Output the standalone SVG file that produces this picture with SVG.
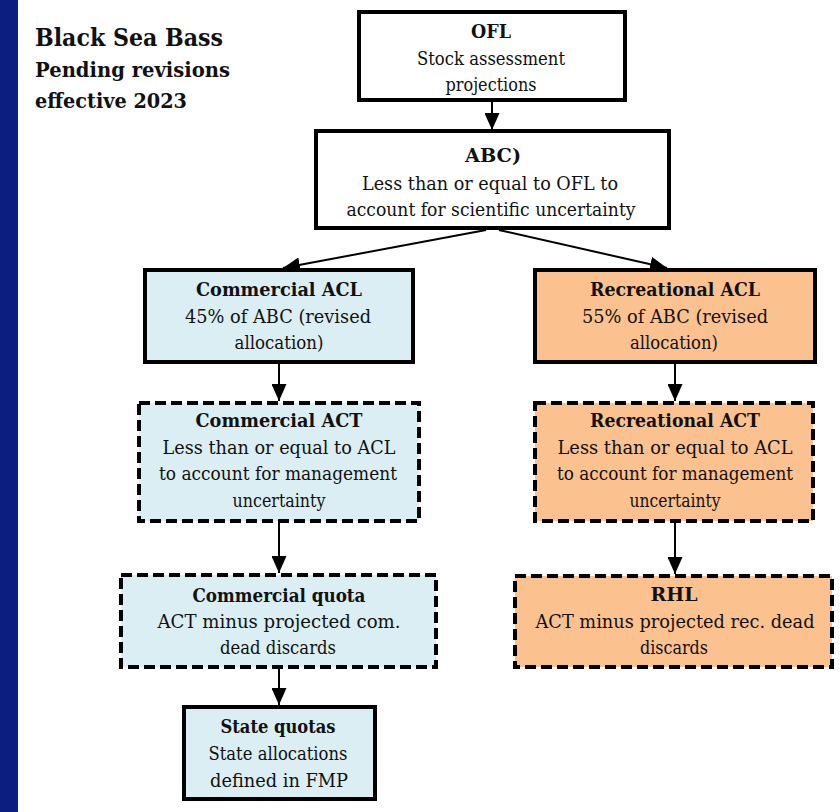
<svg xmlns="http://www.w3.org/2000/svg" width="840" height="812" viewBox="0 0 840 812">
<defs>
<style>
text{font-family:"DejaVu Serif","Liberation Serif","Times New Roman",serif}
.t{font-size:18px;fill:#111;text-anchor:middle}
.b{font-weight:bold}
.ttl{font-weight:bold;fill:#111}
.box{stroke:#000;stroke-width:4}
.dash{stroke-dasharray:11 5}
.w{fill:#fff}
.com{fill:#dbeef3}
.rec{fill:#fbc18f}
.c{stroke:#000;stroke-width:2;fill:none;marker-end:url(#ah)}
</style>
<marker id="ah" markerUnits="userSpaceOnUse" markerWidth="17" markerHeight="15" refX="17" refY="7.5" orient="auto">
<path d="M0,0 L17,7.5 L0,15 z" fill="#000"/>
</marker>
</defs>
<rect x="0" y="0" width="840" height="812" fill="#fff"/>
<rect x="0" y="0" width="18" height="812" fill="#0b1f80"/>
<g id="title">
<text class="ttl" x="35" y="46" font-size="25" textLength="188" lengthAdjust="spacingAndGlyphs">Black Sea Bass</text>
<text class="ttl" x="35" y="77" font-size="21" textLength="195" lengthAdjust="spacingAndGlyphs">Pending revisions</text>
<text class="ttl" x="35" y="108" font-size="21" textLength="152" lengthAdjust="spacingAndGlyphs">effective 2023</text>
</g>
<g id="connectors">
<line class="c" x1="492" y1="102" x2="492" y2="130"/>
<line class="c" x1="486" y1="230" x2="283" y2="268"/>
<line class="c" x1="499" y1="230" x2="667" y2="268"/>
<line class="c" x1="279" y1="364" x2="279" y2="401"/>
<line class="c" x1="675" y1="364" x2="675" y2="401"/>
<line class="c" x1="279" y1="523" x2="279" y2="573"/>
<line class="c" x1="675" y1="523" x2="675" y2="574"/>
<line class="c" x1="279" y1="669" x2="279" y2="705"/>
</g>
<g id="ofl">
<rect class="box w" x="359" y="12" width="266" height="88"/>
<text class="t b" x="491" y="38" textLength="40" lengthAdjust="spacingAndGlyphs">OFL</text>
<text class="t" x="491" y="65" textLength="148" lengthAdjust="spacingAndGlyphs">Stock assessment</text>
<text class="t" x="491" y="91" textLength="91" lengthAdjust="spacingAndGlyphs">projections</text>
</g>
<g id="abc">
<rect class="box w" x="316" y="131" width="353" height="97"/>
<text class="t b" x="493" y="162" textLength="56" lengthAdjust="spacingAndGlyphs">ABC)</text>
<text class="t" x="490" y="190" textLength="256" lengthAdjust="spacingAndGlyphs">Less than or equal to OFL to</text>
<text class="t" x="491" y="216" textLength="289" lengthAdjust="spacingAndGlyphs">account for scientific uncertainty</text>
</g>
<g id="com-acl">
<rect class="box com" x="145" y="270" width="268" height="92"/>
<text class="t b" x="279" y="296" textLength="166" lengthAdjust="spacingAndGlyphs">Commercial  ACL</text>
<text class="t" x="278" y="323" textLength="186" lengthAdjust="spacingAndGlyphs">45% of ABC (revised</text>
<text class="t" x="279" y="349" textLength="89" lengthAdjust="spacingAndGlyphs">allocation)</text>
</g>
<g id="rec-acl">
<rect class="box rec" x="535" y="270" width="280" height="92"/>
<text class="t b" x="675" y="296" textLength="170" lengthAdjust="spacingAndGlyphs">Recreational ACL</text>
<text class="t" x="675" y="323" textLength="186" lengthAdjust="spacingAndGlyphs">55% of ABC (revised</text>
<text class="t" x="674" y="349" textLength="88" lengthAdjust="spacingAndGlyphs">allocation)</text>
</g>
<g id="com-act">
<rect class="box com dash" x="139" y="403" width="280" height="118"/>
<text class="t b" x="279" y="427" textLength="167" lengthAdjust="spacingAndGlyphs">Commercial  ACT</text>
<text class="t" x="279" y="454" textLength="233" lengthAdjust="spacingAndGlyphs">Less than or equal to ACL</text>
<text class="t" x="278" y="480" textLength="238" lengthAdjust="spacingAndGlyphs">to account for management</text>
<text class="t" x="279" y="507" textLength="93" lengthAdjust="spacingAndGlyphs">uncertainty</text>
</g>
<g id="rec-act">
<rect class="box rec dash" x="535" y="403" width="278" height="118"/>
<text class="t b" x="675" y="427" textLength="170" lengthAdjust="spacingAndGlyphs">Recreational ACT</text>
<text class="t" x="675" y="454" textLength="235" lengthAdjust="spacingAndGlyphs">Less than or equal to ACL</text>
<text class="t" x="675" y="480" textLength="236" lengthAdjust="spacingAndGlyphs">to account for management</text>
<text class="t" x="675" y="507" textLength="91" lengthAdjust="spacingAndGlyphs">uncertainty</text>
</g>
<g id="com-quota">
<rect class="box com dash" x="121" y="575" width="315" height="92"/>
<text class="t b" x="279" y="602" textLength="173" lengthAdjust="spacingAndGlyphs">Commercial  quota</text>
<text class="t" x="279" y="628" textLength="243" lengthAdjust="spacingAndGlyphs">ACT minus  projected com.</text>
<text class="t" x="278" y="654" textLength="116" lengthAdjust="spacingAndGlyphs">dead discards</text>
</g>
<g id="rhl">
<rect class="box rec dash" x="515" y="576" width="317" height="91"/>
<text class="t b" x="674" y="601" textLength="47" lengthAdjust="spacingAndGlyphs">RHL</text>
<text class="t" x="675" y="628" textLength="279" lengthAdjust="spacingAndGlyphs">ACT minus  projected rec. dead</text>
<text class="t" x="674" y="654" textLength="68" lengthAdjust="spacingAndGlyphs">discards</text>
</g>
<g id="state-quotas">
<rect class="box com" x="184" y="707" width="191" height="92"/>
<text class="t b" x="278" y="733" textLength="115" lengthAdjust="spacingAndGlyphs">State quotas</text>
<text class="t" x="278" y="760" textLength="139" lengthAdjust="spacingAndGlyphs">State allocations</text>
<text class="t" x="279" y="787" textLength="138" lengthAdjust="spacingAndGlyphs">defined in FMP</text>
</g>
</svg>
